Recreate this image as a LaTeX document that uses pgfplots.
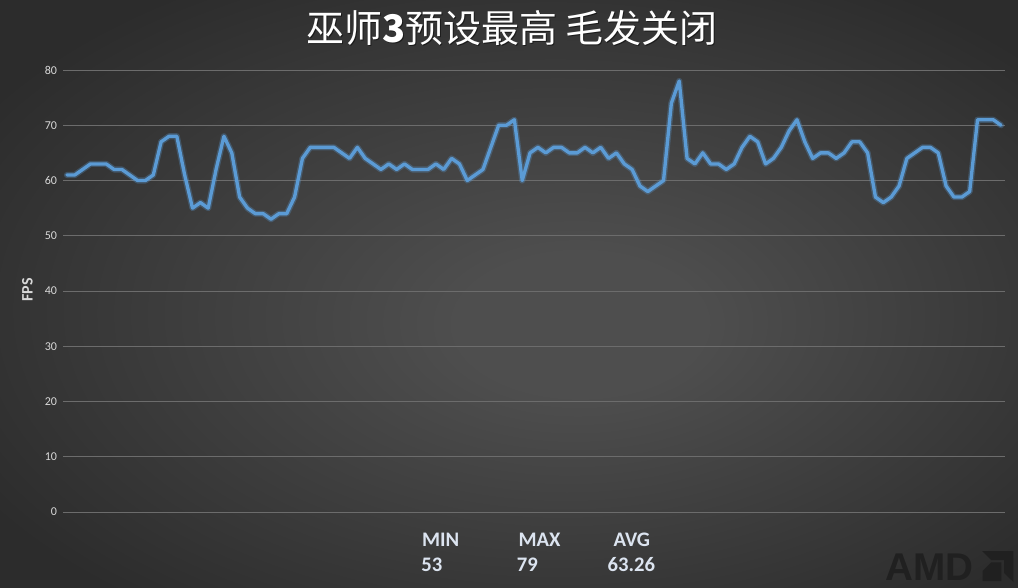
\documentclass[border=0pt]{standalone}
\usepackage{pgfplots}
\pgfplotsset{compat=1.18}
\usepackage{pgfplotstable}
\usepackage{fontspec}
\setmainfont{Carlito}
\newfontfamily\cjk{Noto Sans CJK SC}
\newfontfamily\amdfont{Liberation Sans}
\definecolor{bgc0}{HTML}{4E4E4E}
\definecolor{bgc1}{HTML}{2C2C2C}
\definecolor{gridc}{HTML}{6C6C6C}
\definecolor{tickc}{HTML}{D9D9D9}
\definecolor{linec}{HTML}{5B9BD5}
\definecolor{statc}{HTML}{DCE4F0}
\definecolor{logoc}{HTML}{202020}
\pgfdeclareradialshading{bgshade}{\pgfpoint{4bp}{-3bp}}{color(0bp)=(bgc0); color(6bp)=(bgc0); color(32bp)=(bgc1); color(50bp)=(bgc1)}

\pgfplotstableread{
x y
1 61
2 61
3 62
4 63
5 63
6 63
7 62
8 62
9 61
10 60
11 60
12 61
13 67
14 68
15 68
16 61
17 55
18 56
19 55
20 62
21 68
22 65
23 57
24 55
25 54
26 54
27 53
28 54
29 54
30 57
31 64
32 66
33 66
34 66
35 66
36 65
37 64
38 66
39 64
40 63
41 62
42 63
43 62
44 63
45 62
46 62
47 62
48 63
49 62
50 64
51 63
52 60
53 61
54 62
55 66
56 70
57 70
58 71
59 60
60 65
61 66
62 65
63 66
64 66
65 65
66 65
67 66
68 65
69 66
70 64
71 65
72 63
73 62
74 59
75 58
76 59
77 60
78 74
79 78
80 64
81 63
82 65
83 63
84 63
85 62
86 63
87 66
88 68
89 67
90 63
91 64
92 66
93 69
94 71
95 67
96 64
97 65
98 65
99 64
100 65
101 67
102 67
103 65
104 57
105 56
106 57
107 59
108 64
109 65
110 66
111 66
112 65
113 59
114 57
115 57
116 58
117 71
118 71
119 71
120 70
}\fpsdata

\begin{document}
\begin{tikzpicture}
\shade[shading=bgshade] (0pt,0pt) rectangle (763.5pt,440.25pt);
\begin{axis}[
  at={(47.25pt,56.25pt)}, anchor=south west,
  scale only axis, width=706.5pt, height=331.5pt,
  xmin=0.5, xmax=120.5, ymin=0, ymax=80,
  ytick={0,10,...,80}, xtick=\empty,
  axis line style={draw=none},
  ymajorgrids, grid style={color=gridc, line width=0.75pt},
  major tick length=0pt,
  yticklabel style={font=\fontsize{9}{10}\selectfont, color=tickc, xshift=-1pt},
  /pgf/number format/assume math mode=true,
  clip=false,
]
\addplot[no marks, color=linec, opacity=0.3, line width=4.6pt, line join=round, line cap=round] table[x=x,y=y] {\fpsdata};
\addplot[no marks, color=linec, line width=2.5pt, line join=round, line cap=round] table[x=x,y=y] {\fpsdata};
\end{axis}
% y label
\node[rotate=90, color=tickc, font=\fontsize{12}{14}\selectfont\bfseries] at (20.6pt,222.75pt) {FPS};
% title
\node[color=black, opacity=0.5, font=\fontsize{28.5}{30}\cjk] at (384.9pt,418.4pt) {巫师\textbf{3}预设最高 毛发关闭};
\node[color=white, font=\fontsize{28.5}{30}\cjk] at (384pt,419.25pt) {巫师\textbf{3}预设最高 毛发关闭};
% stats
\begin{scope}[every node/.style={anchor=base west, inner sep=0pt, color=statc, font=\fontsize{15.5}{17}\selectfont\bfseries}]
\node at (316.3pt,30.2pt) {MIN};
\node at (315.8pt,11.5pt) {53};
\node at (388.7pt,30.2pt) {MAX};
\node at (387.5pt,11.5pt) {79};
\node at (460pt,30.2pt) {AVG};
\node at (455.5pt,11.5pt) {63.26};
\end{scope}
% AMD logo
\node[anchor=base west, inner sep=0pt, color=logoc, font=\fontsize{29}{30}\amdfont\bfseries] at (663.75pt,5.25pt) {AMD};
\fill[logoc]
  (736.5pt,27pt) -- (760pt,27pt) -- (760pt,3.75pt) -- (753pt,10.5pt) -- (753pt,20.25pt) -- (743.25pt,20.25pt) -- cycle;
\fill[logoc]
  (737pt,12pt) -- (743.5pt,18.5pt) -- (751pt,18.5pt) -- (751pt,4.5pt) -- (737pt,4.5pt) -- cycle;
\end{tikzpicture}
\end{document}
